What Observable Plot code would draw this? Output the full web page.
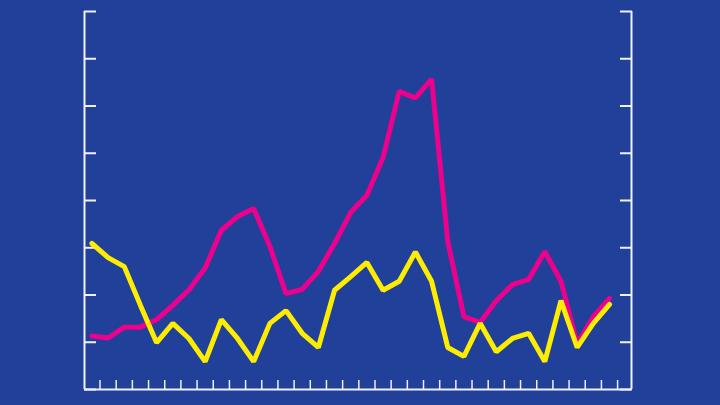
<!DOCTYPE html>
<html>
<head>
<meta charset="utf-8">
<script src="https://cdn.jsdelivr.net/npm/d3@7"></script>
<script src="https://cdn.jsdelivr.net/npm/@observablehq/plot@0.6"></script>
<style>
  html, body { margin: 0; padding: 0; background: #21409A; }
  #chart { width: 720px; height: 405px; }
</style>
</head>
<body>
<div id="chart"></div>
<script>
// Series values, one value per period
const magenta = [1.13, 1.09, 1.32, 1.32, 1.48, 1.78, 2.11, 2.57, 3.37, 3.66, 3.83, 3.03, 2.03, 2.12, 2.50, 3.09, 3.75, 4.11, 4.91, 6.31, 6.17, 6.57, 3.13, 1.54, 1.42, 1.88, 2.22, 2.33, 2.92, 2.29, 0.97, 1.54, 1.93];
const yellow  = [3.09, 2.79, 2.60, 1.78, 0.99, 1.40, 1.08, 0.59, 1.48, 1.08, 0.59, 1.40, 1.67, 1.19, 0.89, 2.10, 2.39, 2.69, 2.10, 2.29, 2.91, 2.29, 0.89, 0.70, 1.40, 0.80, 1.08, 1.19, 0.59, 1.88, 0.89, 1.40, 1.80];
const periods = magenta.map((_, i) => i);
const xTicks = periods.map(i => i + 0.5);
const yTicks = [0, 1, 2, 3, 4, 5, 6, 7, 8];
const xDomain = [-0.46, 33.36];
const yDomain = [0, 8];

const magData = periods.map(i => ({x: i, y: magenta[i]}));
const yelData = periods.map(i => ({x: i, y: yellow[i]}));

const axisColor = "#f0f0f5";

const chart = Plot.plot({
  width: 720,
  height: 405,
  marginLeft: 84,
  marginRight: 89,
  marginTop: 11,
  marginBottom: 16,
  style: {background: "#21409A", color: axisColor, overflow: "visible"},
  x: {domain: xDomain, axis: null},
  y: {domain: yDomain, axis: null},
  marks: [
    Plot.ruleX([xDomain[0], xDomain[1]], {stroke: axisColor, strokeWidth: 2}),
    Plot.ruleY([yDomain[0]], {stroke: axisColor, strokeWidth: 2}),
    Plot.axisY(yTicks, {anchor: "left", label: null, tickSize: -12, tickFormat: () => "", stroke: axisColor, strokeWidth: 2}),
    Plot.axisY(yTicks, {anchor: "right", label: null, tickSize: -12, tickFormat: () => "", stroke: axisColor, strokeWidth: 2}),
    Plot.axisX(xTicks, {anchor: "bottom", label: null, tickSize: -9, tickFormat: () => "", stroke: axisColor, strokeWidth: 1.5}),
    Plot.line(magData, {x: "x", y: "y", stroke: "#EC008C", strokeWidth: 5, strokeLinejoin: "miter", strokeLinecap: "round"}),
    Plot.line(yelData, {x: "x", y: "y", stroke: "#FFED00", strokeWidth: 5, strokeLinejoin: "miter", strokeLinecap: "round"})
  ]
});
document.getElementById("chart").appendChild(chart);
</script>
</body>
</html>
